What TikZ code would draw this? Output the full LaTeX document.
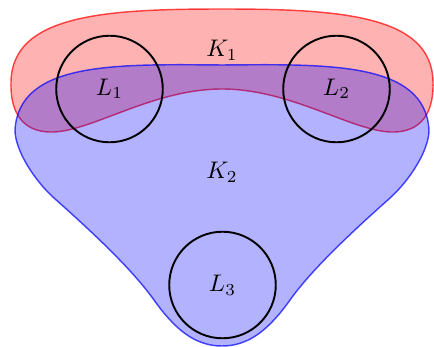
\documentclass[tikz,border=0pt]{standalone}
\usepackage{tikz}
\begin{document}
\begin{tikzpicture}[x=0.41667pt,y=-0.41667pt,
  regK1/.style={draw=red,fill=red,fill opacity=0.3,draw opacity=0.7,semithick},
  regK2/.style={draw=blue,fill=blue,fill opacity=0.3,draw opacity=0.7,semithick},
  ball/.style={circle,draw=black,thick,minimum size=44.4pt,inner sep=0pt},
  lab/.style={inner sep=1pt}]
\useasboundingbox (0,0) rectangle (434,346);
% K1 (red)
\path[regK1] (222,9) .. controls (340,9) and (432,15) .. (433,82)
  .. controls (434,120) and (415,133) .. (390,132)
  .. controls (350,130) and (290,89) .. (222,89)
  .. controls (154,89) and (94,130) .. (54,132)
  .. controls (29,133) and (10,120) .. (11,82)
  .. controls (12,15) and (104,9) .. (222,9) -- cycle;
% K2 (blue)
\path[regK2] (222,65) .. controls (330,64) and (425,62) .. (429,130)
  .. controls (429,150) and (410,180) .. (390,198)
  .. controls (345,238) and (310,272) .. (290,300)
  .. controls (270,328) and (250,346) .. (222,346)
  .. controls (194,346) and (174,328) .. (154,300)
  .. controls (134,272) and (99,238) .. (54,198)
  .. controls (34,180) and (15,150) .. (15,130)
  .. controls (19,62) and (114,64) .. (222,65) -- cycle;
\node[lab] (k1) at (222,50) {$K_1$};
\node[lab] (k2) at (222,172) {$K_2$};
\node[ball] (l1) at (109.5,89) {$L_1$};
\node[ball] (l2) at (336.5,89) {$L_2$};
\node[ball] (l3) at (222.5,285) {$L_3$};
\end{tikzpicture}
\end{document}
